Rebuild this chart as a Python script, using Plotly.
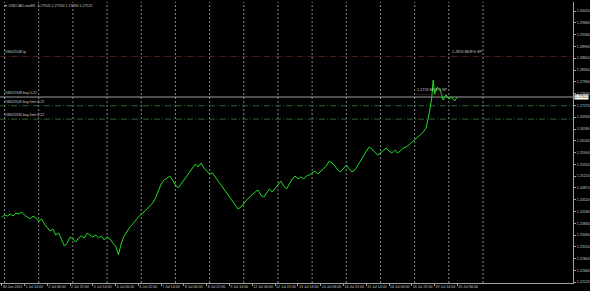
import plotly.graph_objects as go

# ---- data ----
bar_index = [0, 2, 4, 6, 8, 10, 12, 14, 16, 18, 20, 22, 24, 26, 28, 30, 32, 34, 36, 38,
             40, 42, 44, 46, 48, 50, 52, 54, 56, 58, 60, 62, 64, 66, 68, 70, 72, 74, 76, 78,
             80, 82, 84, 86, 88, 90, 92, 94, 96, 98, 100, 102, 104, 106, 108, 110, 112, 114, 116, 118,
             120, 122, 124, 126, 128, 130, 132, 134, 136, 138, 140, 142, 144, 146, 148, 150, 152, 154, 156, 158,
             160, 162, 164, 166, 168, 170, 172, 174, 176, 178, 180, 182, 184, 186, 188, 190, 192, 194, 196, 198,
             200, 202, 204, 206, 208, 210, 212, 214, 216, 218, 220, 222, 224, 226, 228, 230, 232, 234, 236, 238,
             240, 242, 244, 246, 248, 250, 252, 254, 256, 258, 260, 262, 264, 266, 268, 270, 272, 274, 276, 278,
             280, 282, 284, 286, 288, 290, 292, 294, 296, 298, 300, 302, 303, 304, 306, 308, 310, 312, 314, 316,
             318, 320]
close_price = [1.24015, 1.24074, 1.24044, 1.24103, 1.24044, 1.24132, 1.24103, 1.24161, 1.24074, 1.24015,
               1.23957, 1.24044, 1.23986, 1.23899, 1.23957, 1.23811, 1.23694, 1.23607, 1.23665, 1.23490,
               1.23549, 1.23345, 1.23170, 1.23257, 1.23432, 1.23374, 1.23286, 1.23403, 1.23461, 1.23403,
               1.23549, 1.23490, 1.23432, 1.23490, 1.23403, 1.23461, 1.23345, 1.23432, 1.23374, 1.23257,
               1.23170, 1.22914, 1.23257, 1.23461, 1.23607, 1.23724, 1.23811, 1.23928, 1.24015, 1.24103,
               1.24161, 1.24249, 1.24336, 1.24424, 1.24569, 1.24803, 1.24978, 1.25094, 1.25153, 1.25211,
               1.25094, 1.24949, 1.24861, 1.24978, 1.25094, 1.25211, 1.25328, 1.25444, 1.25561, 1.25474,
               1.25590, 1.25444, 1.25357, 1.25269, 1.25299, 1.25182, 1.25065, 1.24949, 1.24861, 1.24744,
               1.24598, 1.24482, 1.24365, 1.24249, 1.24307, 1.24424, 1.24511, 1.24598, 1.24686, 1.24744,
               1.24803, 1.24657, 1.24598, 1.24715, 1.24832, 1.24744, 1.24861, 1.24978, 1.25065, 1.24919,
               1.24832, 1.24978, 1.25123, 1.25211, 1.25123, 1.25182, 1.25123, 1.25211, 1.25240, 1.25299,
               1.25357, 1.25269, 1.25357, 1.25415, 1.25503, 1.25648, 1.25590, 1.25503, 1.25386, 1.25328,
               1.25444, 1.25532, 1.25415, 1.25328, 1.25386, 1.25503, 1.25648, 1.25794, 1.25940, 1.26057,
               1.25998, 1.25911, 1.25823, 1.25882, 1.25969, 1.26028, 1.25940, 1.25882, 1.25969, 1.25882,
               1.25940, 1.26028, 1.26057, 1.26115, 1.26202, 1.26261, 1.26348, 1.26407, 1.26494, 1.26611,
               1.26990, 1.27485, 1.28010, 1.27602, 1.27806, 1.27719, 1.27427, 1.27573, 1.27456, 1.27514,
               1.27398, 1.27514]

x_tick_bars = [0, 16, 32, 48, 64, 80, 96, 112, 128, 144, 160, 176, 192, 208, 224, 240, 256, 272, 288, 304, 320]
x_tick_labels = ["30 Jun 2021", "1 Jul 14:00", "2 Jul 06:00", "2 Jul 22:00", "5 Jul 14:00", "6 Jul 06:00",
                 "6 Jul 22:00", "7 Jul 14:00", "8 Jul 06:00", "8 Jul 22:00", "9 Jul 14:00", "12 Jul 06:00",
                 "12 Jul 22:00", "13 Jul 14:00", "14 Jul 06:00", "14 Jul 22:00", "15 Jul 14:00", "16 Jul 06:00",
                 "16 Jul 22:00", "19 Jul 14:00", "20 Jul 06:00"]
day_grid_bars = [2, 26, 50, 74, 98, 122, 146, 170, 194, 218, 242, 266, 290, 314, 338]

y_tick_values = [1.22120, 1.22460, 1.22800, 1.23150, 1.23490, 1.23830, 1.24180, 1.24520, 1.24870,
                 1.25210, 1.25550, 1.25900, 1.26240, 1.26580, 1.26930, 1.27270, 1.27620, 1.27960,
                 1.28300, 1.28650, 1.28990, 1.29330, 1.29680, 1.30020]
y_tick_labels = ["%.5f" % v for v in y_tick_values]

title_text = "USDCAD.rootH1  1.27505 1.27590 1.27490 1.27521"
bid_price = 1.27514
bid_label = "1.27521"

order_prices = [1.28700, 1.27514, 1.27260, 1.26870]
order_labels = ["#58022548 tp", "#58025948 buy 0.22", "#58022549 buy limit 0.22", "#58025930 buy limit 0.22"]
order_colors = ["#5e1c1c", "#9c9c9c", "#2f5f35", "#2f5f35"]
order_dashes = ["6px,2px,1px,2px", "solid", "6px,2px,1px,2px", "6px,2px,1px,2px"]

note_texts = ["1.2870 MUFG SP", "1.2759 MUFG SP"]
note_prices = [1.28700, 1.27590]
note_bars = [315, 290]
note_seg_end = [None, 313]

FONT = "Liberation Sans"
TXT = "#c8c8c8"

fig = go.Figure()
fig.add_trace(go.Scatter(x=bar_index, y=close_price, mode="lines",
                         line=dict(color="#22dd22", width=1), hoverinfo="skip", showlegend=False))

shapes = []
for b in day_grid_bars:
    shapes.append(dict(type="line", xref="x", yref="paper", x0=b, x1=b, y0=0, y1=1,
                       line=dict(color="#8a8a8a", width=1, dash="2px,2px"), layer="below"))
for p, c, d in zip(order_prices, order_colors, order_dashes):
    shapes.append(dict(type="line", xref="paper", yref="y", x0=0, x1=1, y0=p, y1=p,
                       line=dict(color=c, width=1, dash=d), layer="below"))
shapes.append(dict(type="line", xref="x", yref="y", x0=note_bars[1], x1=note_seg_end[1],
                   y0=note_prices[1], y1=note_prices[1],
                   line=dict(color="#6e2222", width=1, dash="1px,1px")))

annotations = []
for p, t in zip(order_prices, order_labels):
    annotations.append(dict(xref="paper", yref="y", x=0.004, y=p, text=t, showarrow=False,
                            xanchor="left", yanchor="bottom", yshift=0,
                            font=dict(family=FONT, size=3.6, color=TXT)))
for t, p, b in zip(note_texts, note_prices, note_bars):
    annotations.append(dict(xref="x", yref="y", x=b, y=p, text=t, showarrow=False,
                            xanchor="left", yanchor="bottom", yshift=0,
                            font=dict(family=FONT, size=3.8, color=TXT)))
annotations.append(dict(xref="paper", yref="paper", x=0.003, y=1.0, text="▼ " + title_text,
                        showarrow=False, xanchor="left", yanchor="top",
                        font=dict(family=FONT, size=3.6, color=TXT)))
annotations.append(dict(xref="paper", yref="y", x=1.0, y=bid_price, text=bid_label, showarrow=False,
                        xanchor="left", yanchor="middle", xshift=1, bgcolor="#ffffff", borderpad=0,
                        font=dict(family=FONT, size=3.6, color="#000000")))

fig.update_layout(
    width=590, height=291,
    margin=dict(l=0, r=17, t=2, b=8, autoexpand=False),
    paper_bgcolor="#000000", plot_bgcolor="#000000",
    shapes=shapes, annotations=annotations,
    xaxis=dict(range=[-1.2, 401.2], tickmode="array", tickvals=x_tick_bars, ticktext=x_tick_labels,
               ticks="outside", ticklen=2, tickcolor="#a0a0a0", ticklabelposition="outside right",
               tickangle=0, automargin=False,
               tickfont=dict(family=FONT, size=3.6, color=TXT), showgrid=False, zeroline=False,
               showline=True, linecolor="#a0a0a0", linewidth=1, fixedrange=True),
    yaxis=dict(range=[1.22091, 1.30285], side="right", tickmode="array", tickvals=y_tick_values,
               ticktext=y_tick_labels, ticks="outside", ticklen=2, tickcolor="#a0a0a0",
               automargin=False,
               tickfont=dict(family=FONT, size=3.6, color=TXT), showgrid=False, zeroline=False,
               showline=True, linecolor="#a0a0a0", linewidth=1, fixedrange=True),
)

fig.write_html("out.html")
